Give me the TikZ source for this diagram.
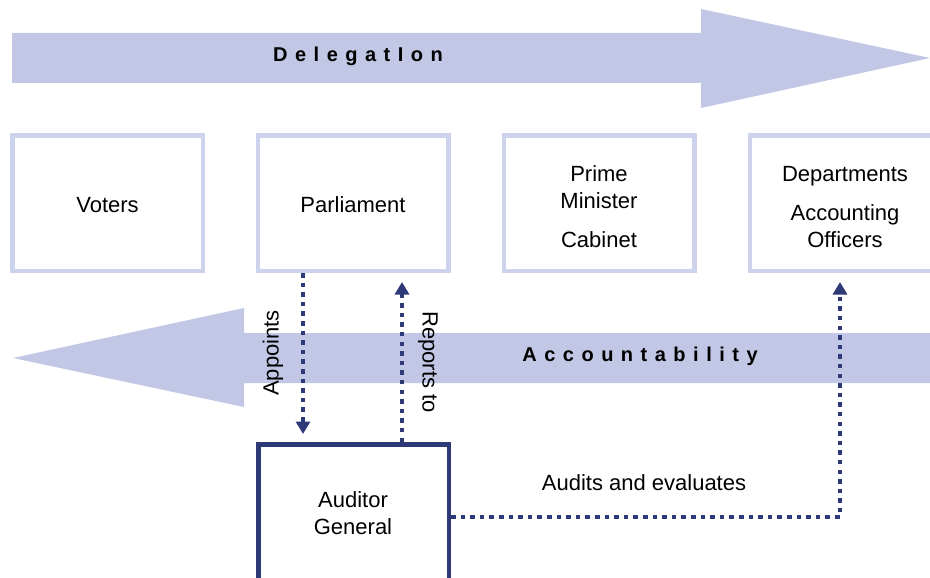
\documentclass[tikz,border=0pt]{standalone}
\usepackage{fontspec}
\setmainfont{Liberation Sans}
\usetikzlibrary{arrows.meta,calc}
\definecolor{band}{HTML}{C1C7E5}
\definecolor{boxline}{HTML}{CDD3EC}
\definecolor{navy}{HTML}{2E3A78}
\newcommand\ls{\hspace{7.5pt}}
\begin{document}
\begin{tikzpicture}[x=1pt,y=-1pt,
  lightbox/.style={draw=boxline,line width=4.5pt,minimum width=190.5pt,minimum height=135.5pt,inner sep=0pt},
  agbox/.style={draw=navy,line width=4.5pt,minimum width=190.5pt,minimum height=200pt,inner sep=0pt},
  lbl/.style={font=\fontsize{22}{26.5}\selectfont,inner sep=0pt,align=center},
  bandlbl/.style={font=\fontsize{20}{24}\selectfont\bfseries,inner sep=0pt},
  dotline/.style={draw=navy,line width=4pt,dash pattern=on 4.5pt off 5.1pt,-{Triangle[width=14pt,length=12.5pt]}},
  bandfill/.style={fill=band,draw=none}]
\useasboundingbox (0,0) rectangle (930,578);
% Delegation band
\fill[bandfill] (12,33) -- (701,33) -- (701,9) -- (930,58) -- (701,108) -- (701,83) -- (12,83) -- cycle;
\node[bandlbl] (dlab) at (358,56) {D\ls e\ls l\ls e\ls g\ls a\ls t\ls I\ls o\ls n};
% Accountability band
\fill[bandfill] (935,333) -- (244,333) -- (244,308) -- (13,358) -- (244,407) -- (244,383) -- (935,383) -- cycle;
\node[bandlbl] (alab) at (640,356) {A\ls c\ls c\ls o\ls u\ls n\ls t\ls a\ls b\ls i\ls l\ls i\ls t\ls y};
% boxes
\node[lightbox] (vot) at (107.5,203) {};
\node[lightbox] (parl) at (353,203) {};
\node[lightbox] (pm) at (599,203) {};
\node[lightbox] (dep) at (845,203) {};
\node[lbl] (vott) at (107.5,205) {Voters};
\node[lbl] (parlt) at (353,205) {Parliament};
\node[lbl] (pmt) at (599,207) {Prime\\Minister\\[13pt]Cabinet};
\node[lbl] (dept) at (845,207) {Departments\\[13pt]Accounting\\Officers};
\node[agbox] (ag) at (353.5,544.25) {};
\node[lbl] (agt) at (353,513) {Auditor\\General};
% connectors
\draw[dotline,shorten >=8pt] ([xshift=-50pt]parl.south) -- ([xshift=-50pt]parl.south |- ag.north);
\draw[dotline,shorten >=9pt] ([xshift=48.5pt]ag.north) -- ([xshift=48.5pt]ag.north |- parl.south);
\coordinate (agE) at ($(ag.north east)+(0,75)$);
\draw[dotline,shorten >=9pt] (agE) -| ([xshift=-5pt]dep.south);
% labels
\node[lbl,rotate=90] (app) at (273,353) {Appoints};
\node[lbl,rotate=-90] (rep) at (428,362) {Reports to};
\node[lbl] (aud) at (644,483) {Audits and evaluates};
\end{tikzpicture}
\end{document}
